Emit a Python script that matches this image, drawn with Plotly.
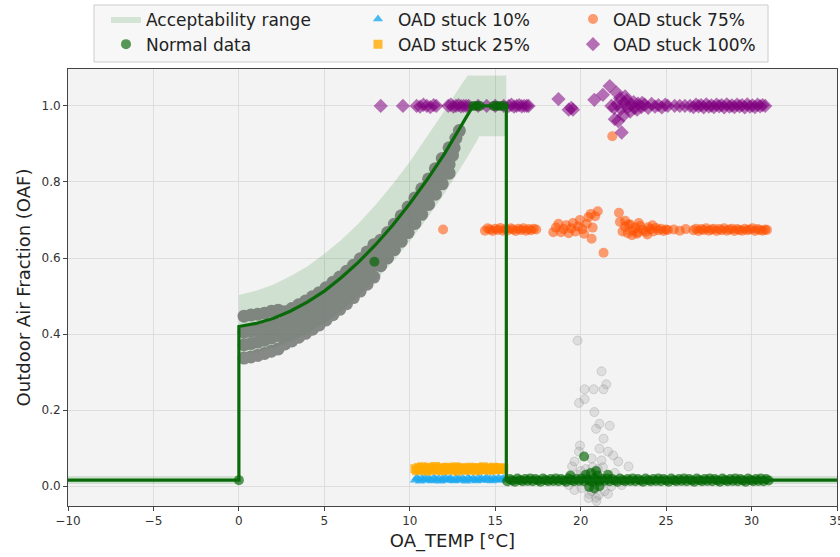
import plotly.graph_objects as go

# ---------------- data ----------------
# expected OAF model line
model_x = [-10, 0, 0, 1, 2, 3, 4, 5, 6, 7, 8, 9, 10, 11, 12, 13, 13.7, 15.65, 15.65, 35]
model_y = [0.016, 0.016, 0.42, 0.428, 0.441, 0.46, 0.484, 0.513, 0.549, 0.589, 0.635,
           0.686, 0.743, 0.805, 0.872, 0.945, 1.0, 1.0, 0.016, 0.016]

# acceptability band (upper / lower boundary)
band_up_x = [0, 1, 2, 3, 4, 5, 6, 7, 8, 9, 10, 11, 12, 13, 13.4, 15.65]
band_up_y = [0.503, 0.514, 0.530, 0.552, 0.578, 0.611, 0.648, 0.691, 0.740, 0.794,
             0.853, 0.918, 0.985, 1.055, 1.08, 1.08]
band_lo_x = [0, 1, 2, 3, 4, 5, 6, 7, 8, 9, 10, 11, 12, 13, 14, 14.05, 15.65]
band_lo_y = [0.348, 0.353, 0.364, 0.380, 0.402, 0.428, 0.461, 0.498, 0.541, 0.590,
             0.644, 0.703, 0.768, 0.838, 0.913, 0.92, 0.92]
band_flat_left_x = [-10, 0]
band_flat_right_x = [15.65, 35]
band_flat_lo = 0.006
band_flat_hi = 0.027

# gray cloud of all data along the curve (four rows)
cloud_x = [0.3, 0.7, 1.1, 1.5, 1.9, 2.3, 2.7, 3.1, 3.5, 3.9, 4.3, 4.7, 5.1, 5.5, 5.9, 6.3,
           6.7, 7.1, 7.5, 7.9, 8.3, 8.7, 9.1, 9.5, 9.9, 10.3, 10.7, 11.1, 11.5, 11.9, 12.3]
cloud_y_a = [0.337, 0.340, 0.344, 0.349, 0.355, 0.361, 0.374, 0.382, 0.392, 0.402, 0.413,
             0.424, 0.437, 0.451, 0.465, 0.480, 0.496, 0.513, 0.531, 0.550, 0.580, 0.600,
             0.622, 0.644, 0.667, 0.691, 0.715, 0.741, 0.768, 0.795, 0.823]
cloud_y_b = [0.372, 0.375, 0.379, 0.384, 0.390, 0.396, 0.404, 0.412, 0.422, 0.432, 0.443,
             0.454, 0.467, 0.481, 0.495, 0.510, 0.526, 0.543, 0.561, 0.580, 0.603, 0.623,
             0.645, 0.667, 0.690, 0.714, 0.738, 0.764, 0.791, 0.818, 0.846]
cloud_y_c = [0.405, 0.408, 0.411, 0.415, 0.420, 0.426, 0.434, 0.442, 0.452, 0.462, 0.473,
             0.484, 0.497, 0.511, 0.525, 0.540, 0.556, 0.573, 0.591, 0.610, 0.627, 0.647,
             0.669, 0.691, 0.714, 0.738, 0.762, 0.788, 0.815, 0.842, 0.870]
cloud_y_d = [0.447, 0.450, 0.452, 0.455, 0.460, 0.463, 0.459, 0.467, 0.477, 0.487, 0.498,
             0.509, 0.522, 0.536, 0.550, 0.565, 0.581, 0.598, 0.616, 0.635, 0.647, 0.667,
             0.689, 0.711, 0.734, 0.758, 0.782, 0.808, 0.835, 0.862, 0.890]
cloud_tail_x = [12.5, 12.6, 12.7, 12.9]
cloud_tail_y = [0.87, 0.89, 0.915, 0.935]

# scattered gray points around 20 °C
spread_x = [19.82, 21.22, 20.23, 20.76, 21.34, 21.5, 20.23, 19.9, 20.8, 21.1, 21.7, 20.9,
            21.34, 19.96, 19.9, 21.1, 21.6, 21.9, 19.64, 20.64, 21.22, 22.2, 22.8, 19.5,
            20.05, 20.64, 21.05, 20.46, 20.93, 21.4, 19.64, 21.8, 22.4, 19.3, 20.3, 20.7,
            21.0, 20.5, 20.9, 20.0, 21.3, 19.8, 22.0, 21.6]
spread_y = [0.383, 0.302, 0.255, 0.255, 0.255, 0.268, 0.229, 0.219, 0.195, 0.164, 0.159,
            0.151, 0.125, 0.107, 0.091, 0.099, 0.091, 0.081, 0.065, 0.073, 0.068, 0.065,
            0.052, 0.052, -0.005, -0.013, -0.023, -0.031, -0.039, -0.013, -0.010, 0.000,
            0.003, 0.003, 0.045, 0.05, 0.045, -0.02, -0.03, 0.04, 0.05, 0.03, 0.035, -0.02]

# OAD stuck 10 % / 25 %
stuck_low_x = [10.3, 10.4, 10.5, 10.6, 10.7, 10.8, 10.9, 11.0, 11.1, 11.2, 11.3, 11.4, 11.5,
               11.6, 11.7, 11.8, 11.9, 12.0, 12.1, 12.2, 12.3, 12.4, 12.5, 12.6, 12.7, 12.8,
               12.9, 13.0, 13.1, 13.2, 13.3, 13.4, 13.5, 13.6, 13.7, 13.8, 13.9, 14.0, 14.1,
               14.2, 14.3, 14.4, 14.5, 14.6, 14.7, 14.8, 14.9, 15.0, 15.1, 15.2, 15.3, 15.4,
               15.5]
stuck10_y = [0.016, 0.022, 0.019, 0.013, 0.021, 0.017, 0.023, 0.015, 0.020, 0.018, 0.014,
             0.022, 0.019, 0.016, 0.021, 0.013, 0.020, 0.017, 0.023, 0.015, 0.019, 0.021,
             0.016, 0.014, 0.022, 0.018, 0.020, 0.015, 0.021, 0.017, 0.013, 0.022, 0.019,
             0.016, 0.020, 0.018, 0.014, 0.022, 0.017, 0.021, 0.015, 0.019, 0.023, 0.016,
             0.020, 0.014, 0.021, 0.018, 0.017, 0.022, 0.015, 0.019, 0.020]
stuck25_y = [0.046, 0.041, 0.049, 0.044, 0.051, 0.043, 0.047, 0.040, 0.050, 0.045, 0.042,
             0.048, 0.052, 0.044, 0.046, 0.041, 0.049, 0.043, 0.047, 0.050, 0.042, 0.045,
             0.048, 0.044, 0.051, 0.040, 0.046, 0.049, 0.043, 0.047, 0.045, 0.042, 0.050,
             0.044, 0.048, 0.046, 0.041, 0.049, 0.045, 0.043, 0.051, 0.047, 0.044, 0.048,
             0.042, 0.046, 0.050, 0.043, 0.047, 0.045, 0.049, 0.044, 0.046]

# OAD stuck 75 %
stuck75_x = [11.95,
             14.4, 14.55, 14.7, 14.85, 15.0, 15.15, 15.3, 15.45, 15.6, 15.75, 15.9, 16.05,
             16.2, 16.35, 16.5, 16.65, 16.8, 16.95, 17.1, 17.25, 17.4,
             18.4, 18.55, 18.7, 18.85, 19.0, 19.15, 19.3, 19.45, 19.55, 19.7, 19.85, 19.95,
             20.1, 20.2, 20.35, 20.45, 20.6, 20.7, 20.85, 21.0, 20.64, 21.34, 22.24, 21.85,
             22.3, 22.45, 22.6, 22.75, 22.9, 23.05, 23.2, 23.35, 23.5, 23.65, 23.8, 23.95,
             24.1, 24.25, 24.4, 24.55, 24.7, 24.85, 25.0, 25.1, 22.6, 23.0, 23.4, 23.9,
             22.8, 23.3, 24.2,
             25.45, 25.8, 26.15,
             26.6, 26.75, 26.9, 27.05, 27.2, 27.35, 27.5, 27.65, 27.8, 27.95, 28.1, 28.25,
             28.4, 28.55, 28.7, 28.85, 29.0, 29.15, 29.3, 29.45, 29.6, 29.75, 29.9, 30.05,
             30.2, 30.35, 30.5, 30.65, 30.8, 30.9]
stuck75_y = [0.675,
             0.672, 0.678, 0.675, 0.671, 0.677, 0.674, 0.679, 0.672, 0.676, 0.673, 0.678,
             0.675, 0.671, 0.677, 0.674, 0.678, 0.672, 0.676, 0.673, 0.677, 0.675,
             0.668, 0.680, 0.690, 0.668, 0.676, 0.686, 0.665, 0.678, 0.692, 0.670, 0.683,
             0.700, 0.676, 0.664, 0.690, 0.708, 0.716, 0.680, 0.710, 0.723, 0.651, 0.614,
             0.719, 0.920,
             0.695, 0.670, 0.682, 0.665, 0.688, 0.672, 0.680, 0.668, 0.684, 0.674, 0.669,
             0.681, 0.676, 0.670, 0.679, 0.673, 0.677, 0.671, 0.675, 0.674, 0.698, 0.660,
             0.692, 0.662, 0.688, 0.664, 0.686,
             0.675, 0.672, 0.676,
             0.673, 0.677, 0.671, 0.676, 0.674, 0.678, 0.672, 0.675, 0.677, 0.671, 0.676,
             0.673, 0.678, 0.672, 0.675, 0.677, 0.671, 0.676, 0.674, 0.672, 0.677, 0.673,
             0.675, 0.678, 0.671, 0.676, 0.674, 0.672, 0.675, 0.674]

# OAD stuck 100 %
stuck100_x = [8.3, 9.6, 10.4, 10.6, 10.8, 11.0, 11.2, 11.4, 11.55, 12.25, 12.4, 12.55,
              12.7, 12.85, 13.0, 13.15, 13.3, 13.45, 14.0, 14.5, 15.0, 15.5, 15.8, 15.95,
              16.1, 16.25, 16.4, 16.55, 16.7, 16.85, 16.95,
              18.7, 19.3, 19.45, 19.55, 20.8, 21.3, 21.7, 22.4, 22.0, 22.1, 22.3, 22.5,
              22.7, 22.9, 23.1, 23.3, 23.6, 21.8, 22.2, 22.6,
              21.95, 22.15, 22.35, 22.55, 22.75, 22.95, 23.15, 23.35, 23.55, 23.75, 23.95,
              24.15, 24.35, 24.55, 24.75, 24.95, 25.1,
              25.5, 25.8, 26.1, 26.4,
              26.6, 26.75, 26.9, 27.05, 27.2, 27.35, 27.5, 27.65, 27.8, 27.95, 28.1, 28.25,
              28.4, 28.55, 28.7, 28.85, 29.0, 29.15, 29.3, 29.45, 29.6, 29.75, 29.9, 30.05,
              30.2, 30.35, 30.5, 30.65, 30.8]
stuck100_y = [1.0, 1.0, 1.0, 0.998, 1.003, 1.0, 0.997, 1.002, 1.0, 1.0, 1.003, 0.998,
              1.0, 1.002, 0.999, 1.0, 1.0, 1.0, 1.0, 1.0, 1.0, 1.0, 1.0, 1.003,
              0.998, 1.0, 1.002, 0.999, 1.0, 1.0, 1.0,
              1.018, 0.99, 0.995, 0.99, 1.016, 1.029, 1.052, 0.93, 0.965, 1.035, 1.02, 0.975,
              1.015, 0.985, 1.01, 0.99, 1.008, 1.0, 0.96, 1.025,
              0.995, 1.005, 0.992, 1.008, 0.996, 1.004, 0.994, 1.006, 0.997, 1.003, 0.995,
              1.005, 0.998, 1.002, 0.996, 1.003, 1.0,
              1.0, 1.0, 1.0, 1.0,
              0.997, 1.003, 0.999, 1.002, 0.996, 1.004, 0.998, 1.001, 0.997, 1.003, 0.999,
              1.002, 0.996, 1.004, 0.998, 1.001, 0.997, 1.003, 0.999, 1.002, 0.996, 1.004,
              0.998, 1.001, 0.997, 1.003, 0.999, 1.002, 1.0]

# normal data
normal_x = [15.7, 15.85, 16.0, 16.15, 16.3, 16.45, 16.6, 16.75, 16.9, 17.05, 17.2, 17.35,
            17.5, 17.65, 17.8, 17.95, 18.1, 18.25, 18.4, 18.55, 18.7, 18.85, 19.0, 19.15,
            19.3, 19.45, 19.6, 19.75, 19.9, 20.05, 20.2, 20.35, 20.5, 20.65, 20.8, 20.95,
            21.1, 21.25, 21.4, 21.55, 21.7, 21.85, 22.0, 22.15, 22.3, 22.45, 22.6, 22.75,
            22.9, 23.05, 23.2, 23.35, 23.5, 23.65, 23.8, 23.95, 24.1, 24.25, 24.4, 24.55,
            24.7, 24.85, 25.0, 25.15, 25.3, 25.45, 25.6, 25.75, 25.9, 26.05, 26.2, 26.35,
            26.5, 26.65, 26.8, 26.95, 27.1, 27.25, 27.4, 27.55, 27.7, 27.85, 28.0, 28.15,
            28.3, 28.45, 28.6, 28.75, 28.9, 29.05, 29.2, 29.35, 29.5, 29.65, 29.8, 29.95,
            30.1, 30.25, 30.4, 30.55, 30.7, 30.85, 31.0,
            20.3, 20.6, 20.9, 21.0, 20.5, 20.8, 21.1, 19.4, 21.6, 20.2, 7.93,
            13.7, 13.9, 14.1, 14.9, 15.1, 15.3, 15.5, 0.0]
normal_y = [0.013, 0.019, 0.015, 0.012, 0.020, 0.016, 0.013, 0.019, 0.014, 0.020,
            0.013, 0.019, 0.015, 0.012, 0.020, 0.016, 0.013, 0.019, 0.014, 0.020,
            0.013, 0.019, 0.015, 0.012, 0.020, 0.016, 0.013, 0.019, 0.014, 0.020,
            0.013, 0.019, 0.015, 0.012, 0.020, 0.016, 0.013, 0.019, 0.014, 0.020,
            0.013, 0.019, 0.015, 0.012, 0.020, 0.016, 0.013, 0.019, 0.014, 0.020,
            0.013, 0.019, 0.015, 0.012, 0.020, 0.016, 0.013, 0.019, 0.014, 0.020,
            0.013, 0.019, 0.015, 0.012, 0.020, 0.016, 0.013, 0.019, 0.014, 0.020,
            0.013, 0.019, 0.015, 0.012, 0.020, 0.016, 0.013, 0.019, 0.014, 0.020,
            0.013, 0.019, 0.015, 0.012, 0.020, 0.016, 0.013, 0.019, 0.014, 0.020,
            0.013, 0.019, 0.015, 0.012, 0.020, 0.016, 0.013, 0.019, 0.014, 0.020,
            0.013, 0.019, 0.015,
            0.030, 0.035, 0.040, 0.028, -0.002, -0.006, 0.000, 0.028, 0.030, 0.078, 0.59,
            1.0, 1.0, 1.0, 1.0, 1.0, 1.0, 1.0, 0.016]

# ---------------- figure ----------------
fig = go.Figure()

bx = band_up_x + band_lo_x[::-1] + [None] \
    + band_flat_left_x + band_flat_left_x[::-1] + [None] \
    + band_flat_right_x + band_flat_right_x[::-1]
by = band_up_y + band_lo_y[::-1] + [None] \
    + [band_flat_hi, band_flat_hi, band_flat_lo, band_flat_lo] + [None] \
    + [band_flat_hi, band_flat_hi, band_flat_lo, band_flat_lo]
fig.add_trace(go.Scatter(x=bx, y=by, fill="toself", mode="lines",
                         line=dict(width=0, color="rgba(0,100,0,0)"),
                         fillcolor="rgba(0,110,0,0.14)",
                         name="Acceptability range", legend="legend", hoverinfo="skip"))

cx = cloud_x * 4 + cloud_tail_x
cy = cloud_y_a + cloud_y_b + cloud_y_c + cloud_y_d + cloud_tail_y
fig.add_trace(go.Scatter(x=cx, y=cy, mode="markers", showlegend=False, opacity=0.8,
                         marker=dict(size=13, color="rgb(108,112,108)", line=dict(width=0))))
fig.add_trace(go.Scatter(x=spread_x, y=spread_y, mode="markers", showlegend=False,
                         marker=dict(size=9, color="rgba(140,140,140,0.2)",
                                     line=dict(width=1, color="rgba(140,140,140,0.3)"))))

fig.add_trace(go.Scatter(x=stuck_low_x, y=stuck10_y, mode="markers", name="OAD stuck 10%",
                         legend="legend2",
                         marker=dict(symbol="triangle-up", size=9, color="rgba(30,170,240,0.8)",
                                     line=dict(width=0))))
fig.add_trace(go.Scatter(x=stuck_low_x, y=stuck25_y, mode="markers", name="OAD stuck 25%",
                         legend="legend2",
                         marker=dict(symbol="square", size=9, color="rgba(255,170,0,0.8)",
                                     line=dict(width=0))))
fig.add_trace(go.Scatter(x=stuck75_x, y=stuck75_y, mode="markers", name="OAD stuck 75%",
                         legend="legend3",
                         marker=dict(symbol="circle", size=10, color="rgba(255,80,0,0.55)",
                                     line=dict(width=0))))
fig.add_trace(go.Scatter(x=stuck100_x, y=stuck100_y, mode="markers", name="OAD stuck 100%",
                         legend="legend3",
                         marker=dict(symbol="diamond", size=11, color="rgba(128,0,128,0.55)",
                                     line=dict(width=0))))
fig.add_trace(go.Scatter(x=normal_x, y=normal_y, mode="markers", name="Normal data",
                         legend="legend",
                         marker=dict(symbol="circle", size=10, color="rgba(0,100,0,0.65)",
                                     line=dict(width=0))))
fig.add_trace(go.Scatter(x=model_x, y=model_y, mode="lines", showlegend=False,
                         line=dict(color="#0a6a0a", width=3.2)))

axis_common = dict(showgrid=True, gridcolor="#dddddd", gridwidth=1, zeroline=False,
                   showline=True, linecolor="#444444", linewidth=1, mirror=True,
                   ticks="outside", ticklen=4, tickcolor="#444444",
                   automargin=False, ticklabeloverflow="allow",
                   tickfont=dict(size=12, color="#333333"))

leg_common = dict(orientation="v", y=1.1545, xanchor="left", yanchor="top",
                  bgcolor="rgba(0,0,0,0)", borderwidth=0,
                  font=dict(size=17, color="#222222"), traceorder="normal")

fig.update_layout(
    width=840, height=557,
    margin=dict(l=68, r=3, t=69, b=51, autoexpand=False),
    paper_bgcolor="white", plot_bgcolor="#f3f3f3",
    font=dict(family="DejaVu Sans", color="#222222"),
    xaxis=dict(range=[-10, 35], tickmode="array",
               tickvals=[-10, -5, 0, 5, 10, 15, 20, 25, 30, 35],
               title=dict(text="OA_TEMP [°C]", font=dict(size=18), standoff=6),
               **axis_common),
    yaxis=dict(range=[-0.052, 1.097], tickmode="array",
               tickvals=[0.0, 0.2, 0.4, 0.6, 0.8, 1.0],
               ticktext=["0.0", "0.2", "0.4", "0.6", "0.8", "1.0"],
               title=dict(text="Outdoor Air Fraction (OAF)", font=dict(size=18), standoff=6),
               **axis_common),
    legend=dict(x=0.0494, **leg_common),
    legend2=dict(x=0.3771, **leg_common),
    legend3=dict(x=0.6567, **leg_common),
    shapes=[dict(type="rect", xref="paper", yref="paper",
                 x0=0.0338, x1=0.9103, y0=1.016, y1=1.1465,
                 fillcolor="#f7f7f7", line=dict(color="#cccccc", width=1), layer="below")],
    showlegend=True,
)

fig.write_html("out.html")
